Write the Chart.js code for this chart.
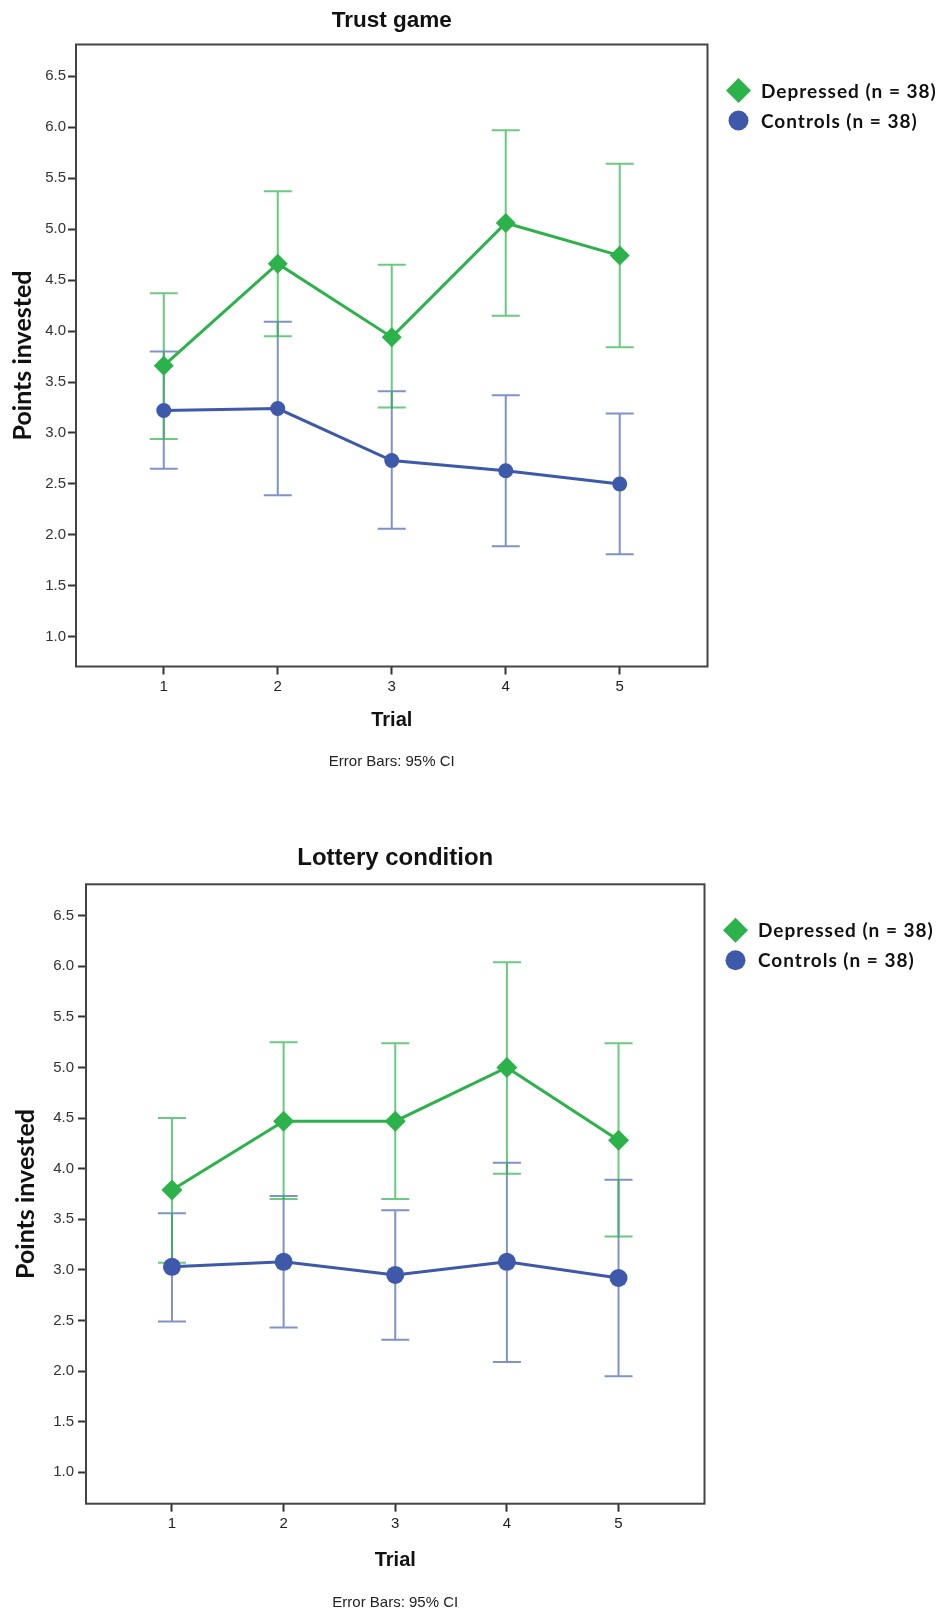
<!DOCTYPE html>
<html>
<head>
<meta charset="utf-8">
<title>Trust game / Lottery condition</title>
<script src="https://cdn.jsdelivr.net/npm/chart.js@4.4.1/dist/chart.umd.min.js"></script>
<style>
    html, body { margin: 0; padding: 0; background: #fff; }
    #wrap { position: relative; width: 940px; height: 1612px; }
    canvas { position: absolute; left: 0; }
    #trustChart { top: 0; }
    #lotteryChart { top: 800px; }
</style>
</head>
<body>
<div id="wrap">
    <canvas id="trustChart" width="940" height="800"></canvas>
    <canvas id="lotteryChart" width="940" height="812"></canvas>
</div>
<script>
"use strict";

//--データ--
const trials = [1, 2, 3, 4, 5];
const yTicks = [1.0, 1.5, 2.0, 2.5, 3.0, 3.5, 4.0, 4.5, 5.0, 5.5, 6.0, 6.5];
const seriesNames = ['Depressed (n = 38)', 'Controls (n = 38)'];

//Trust game
const trustDep   = [3.66, 4.66, 3.94, 5.06, 4.74];
const trustDepLo = [2.94, 3.95, 3.25, 4.15, 3.84];
const trustDepHi = [4.37, 5.37, 4.65, 5.97, 5.64];
const trustCtl   = [3.22, 3.24, 2.73, 2.63, 2.50];
const trustCtlLo = [2.65, 2.39, 2.06, 1.89, 1.81];
const trustCtlHi = [3.80, 4.09, 3.41, 3.37, 3.19];

//Lottery condition
const lotDep   = [3.79, 4.47, 4.47, 5.00, 4.28];
const lotDepLo = [3.07, 3.70, 3.70, 3.95, 3.33];
const lotDepHi = [4.50, 5.25, 5.24, 6.04, 5.24];
const lotCtl   = [3.03, 3.08, 2.95, 3.08, 2.92];
const lotCtlLo = [2.49, 2.43, 2.31, 2.09, 1.95];
const lotCtlHi = [3.56, 3.73, 3.59, 4.06, 3.89];

const GREEN = 'rgb(44, 178, 74)';
const GREEN_BAR = 'rgba(44, 178, 74, 0.7)';
const BLUE = 'rgb(62, 88, 170)';
const BLUE_BAR = 'rgba(62, 88, 170, 0.65)';

Chart.defaults.font.family = "'Liberation Sans', Arial, sans-serif";
Chart.defaults.color = '#222';

//エラーバー(95% CI)
const errorBars = {
    id: 'errorBars',
    beforeDatasetsDraw(chart) {
        const ctx = chart.ctx;
        const xs = chart.scales.x;
        const ys = chart.scales.y;
        chart.data.datasets.slice().reverse().forEach(ds => {
            ctx.save();
            ctx.strokeStyle = ds.barColor;
            ctx.lineWidth = 2;
            ds.data.forEach((p, i) => {
                const px = xs.getPixelForValue(p.x);
                const lo = ys.getPixelForValue(ds.ciLow[i]);
                const hi = ys.getPixelForValue(ds.ciHigh[i]);
                ctx.beginPath();
                ctx.moveTo(px, lo); ctx.lineTo(px, hi);
                ctx.moveTo(px - 14, lo); ctx.lineTo(px + 14, lo);
                ctx.moveTo(px - 14, hi); ctx.lineTo(px + 14, hi);
                ctx.stroke();
            });
            ctx.restore();
        });
    }
};

//枠線
const frame = {
    id: 'frame',
    afterDraw(chart) {
        const a = chart.chartArea;
        const ctx = chart.ctx;
        ctx.save();
        ctx.strokeStyle = '#444';
        ctx.lineWidth = 2;
        ctx.strokeRect(a.left, a.top, a.right - a.left, a.bottom - a.top);
        ctx.restore();
    }
};

//凡例(右側)
const sideLegend = {
    id: 'sideLegend',
    afterDraw(chart) {
        const a = chart.chartArea;
        const ctx = chart.ctx;
        chart.data.datasets.forEach((ds, i) => {
            const cx = a.right + 31;
            const cy = a.top + 46 + i * 30;
            ctx.save();
            ctx.fillStyle = ds.backgroundColor;
            ctx.beginPath();
            if (ds.pointStyle === 'rectRot') {
                ctx.moveTo(cx, cy - 12.5);
                ctx.lineTo(cx + 12.5, cy);
                ctx.lineTo(cx, cy + 12.5);
                ctx.lineTo(cx - 12.5, cy);
                ctx.closePath();
            } else {
                ctx.arc(cx, cy, 10, 0, Math.PI * 2);
            }
            ctx.fill();
            ctx.fillStyle = '#111';
            ctx.font = "bold 19px Lato, 'Liberation Sans', sans-serif";
            ctx.letterSpacing = '1px';
            ctx.textBaseline = 'middle';
            ctx.textAlign = 'left';
            ctx.fillText(ds.label, a.right + 53.5, cy + 1);
            ctx.restore();
        });
    }
};

function makeConfig(p) {
    const tickGrid = {
        drawOnChartArea: false,
        drawTicks: true,
        tickLength: 8,
        tickWidth: 2,
        tickColor: '#333',
    };
    return {
        type: 'line',
        data: {
            datasets: [{
                label: seriesNames[0],
                data: trials.map((t, i) => ({x: t, y: p.dep[i]})),
                ciLow: p.depLo,
                ciHigh: p.depHi,
                barColor: GREEN_BAR,
                borderColor: GREEN,
                backgroundColor: GREEN,
                borderWidth: 3,
                pointStyle: 'rectRot',
                pointRadius: p.diamond,
                pointBorderWidth: 0,
            }, {
                label: seriesNames[1],
                data: trials.map((t, i) => ({x: t, y: p.ctl[i]})),
                ciLow: p.ctlLo,
                ciHigh: p.ctlHi,
                barColor: BLUE_BAR,
                borderColor: BLUE,
                backgroundColor: BLUE,
                borderWidth: 3,
                pointStyle: 'circle',
                pointRadius: p.circle,
                pointBorderWidth: 0,
            }]
        },
        options: {
            responsive: false,
            animation: false,
            events: [],
            layout: {
                padding: {left: 0, right: p.padRight, top: 0, bottom: 0}
            },
            scales: {
                x: {
                    type: 'linear',
                    min: 0.23,
                    max: 5.77,
                    afterBuildTicks: s => { s.ticks = trials.map(v => ({value: v})); },
                    afterFit: s => { s.height = p.xHeight; },
                    grid: tickGrid,
                    border: {display: false},
                    ticks: {font: {size: 15}, color: '#222', padding: 3, maxRotation: 0, autoSkip: false},
                    title: {
                        display: true,
                        text: 'Trial',
                        color: '#111',
                        font: {size: 20, weight: 'bold'},
                        padding: {top: 0, bottom: p.trialPad}
                    }
                },
                y: {
                    type: 'linear',
                    min: p.yMin,
                    max: p.yMax,
                    afterBuildTicks: s => { s.ticks = yTicks.map(v => ({value: v})); },
                    afterFit: s => { s.width = p.yWidth; },
                    grid: tickGrid,
                    border: {display: false},
                    ticks: {
                        font: {size: 15},
                        color: '#333',
                        padding: p.yTickPad,
                        callback: v => Number(v).toFixed(1),
                    },
                    title: {
                        display: true,
                        text: 'Points invested',
                        color: '#111',
                        font: {family: "Lato, 'Liberation Sans', sans-serif", size: 25, weight: 'bold'},
                        padding: {top: p.yTitlePad, bottom: 0}
                    }
                }
            },
            plugins: {
                legend: {display: false},
                tooltip: {enabled: false},
                title: {
                    display: true,
                    fullSize: false,
                    text: p.title,
                    color: '#111',
                    font: {size: p.titleSize, weight: 'bold'},
                    padding: p.titlePad
                },
                subtitle: {
                    display: true,
                    fullSize: false,
                    position: 'bottom',
                    text: 'Error Bars: 95% CI',
                    color: '#222',
                    font: {size: 15, weight: 'normal'},
                    padding: {top: 0, bottom: p.subPad}
                }
            }
        },
        plugins: [errorBars, frame, sideLegend]
    };
}

new Chart(document.getElementById('trustChart'), makeConfig({
    title: 'Trust game',
    dep: trustDep, depLo: trustDepLo, depHi: trustDepHi,
    ctl: trustCtl, ctlLo: trustCtlLo, ctlHi: trustCtlHi,
    yMin: 0.71, yMax: 6.81,
    diamond: 10, circle: 7.5,
    padRight: 232.5,
    titleSize: 22.5, titlePad: {top: 7, bottom: 10.5},
    xHeight: 86.5, trialPad: 21, subPad: 29,
    yWidth: 76, yTickPad: 2, yTitlePad: 7.5,
}));

new Chart(document.getElementById('lotteryChart'), makeConfig({
    title: 'Lottery condition',
    dep: lotDep, depLo: lotDepLo, depHi: lotDepHi,
    ctl: lotCtl, ctlLo: lotCtlLo, ctlHi: lotCtlHi,
    yMin: 0.69, yMax: 6.81,
    diamond: 10.5, circle: 9,
    padRight: 235.5,
    titleSize: 24, titlePad: {top: 44, bottom: 11.5},
    xHeight: 90.3, trialPad: 22, subPad: 0,
    yWidth: 86, yTickPad: 4, yTitlePad: 11,
}));
</script>
</body>
</html>
